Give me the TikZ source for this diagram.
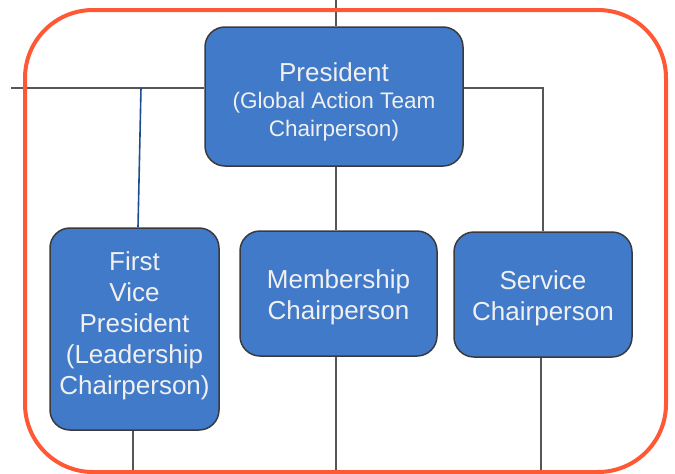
\documentclass[tikz,border=0pt]{standalone}
\usepackage{fontspec}
\setmainfont{Liberation Sans}
\definecolor{boxblue}{RGB}{64,122,200}
\definecolor{boxedge}{RGB}{58,58,62}
\definecolor{linegray}{RGB}{85,85,90}
\definecolor{frameorange}{RGB}{255,88,52}
\definecolor{linkblue}{RGB}{30,78,140}
\tikzset{
  rolebox/.style={draw=boxedge, line width=1.5pt, fill=boxblue, rounded corners=20pt, inner sep=0pt},
  roletext/.style={text=white!94!black, align=center, inner sep=0pt,
    font=\fontsize{26}{31}\selectfont},
  conn/.style={draw=linegray, line width=2pt},
  frame/.style={draw=frameorange, line width=4pt, rounded corners=68pt}
}
\begin{document}
\begin{tikzpicture}[x=1pt,y=-1pt]
\useasboundingbox (0,0) rectangle (675,474);
% boxes
\node[rolebox, minimum width=258pt, minimum height=139pt] (pres) at (334,96.5) {};
\node[rolebox, minimum width=169pt, minimum height=202pt] (fvp) at (134.5,329) {};
\node[rolebox, minimum width=197pt, minimum height=125pt] (memb) at (338.5,293.5) {};
\node[rolebox, minimum width=178pt, minimum height=125pt] (serv) at (543,294.5) {};
% texts
\node[roletext, font=\fontsize{22.5}{27.5}\selectfont] (presT) at ([yshift=-5pt]pres.center)
  {{\fontsize{26}{27.5}\selectfont President}\\(Global Action Team\\Chairperson)};
\node[roletext] (fvpT) at ([yshift=3pt]fvp.center)
  {First\\Vice\\President\\(Leadership\\Chairperson)};
\node[roletext] (membT) at ([yshift=-3.5pt]memb.center) {Membership\\Chairperson};
\node[roletext] (servT) at ([yshift=-4pt]serv.center) {Service\\Chairperson};
% coordinates for free ends
\coordinate (topin) at (336,0);
\coordinate (leftend) at (11,88);
\coordinate (bsplit) at (141,88);
\coordinate (fvpout) at (133,474);
\coordinate (membout) at (336,474);
\coordinate (servout) at (541,474);
% connectors
\draw[conn] (topin) -- (topin |- pres.north);
\draw[conn] (leftend) -- (leftend -| pres.west);
\draw[conn] (leftend -| pres.east) -| (serv.north);
\draw[conn] (pres.south -| topin) -- (memb.north -| topin);
\draw[draw=linkblue, line width=1.6pt] (bsplit) -- ([xshift=3.5pt]fvp.north);
\draw[conn] (fvp.south -| fvpout) -- (fvpout);
\draw[conn] (memb.south -| membout) -- (membout);
\draw[conn] (serv.south -| servout) -- (servout);
% frame
\draw[frame] (25,10) rectangle (666,472);
\end{tikzpicture}
\end{document}
